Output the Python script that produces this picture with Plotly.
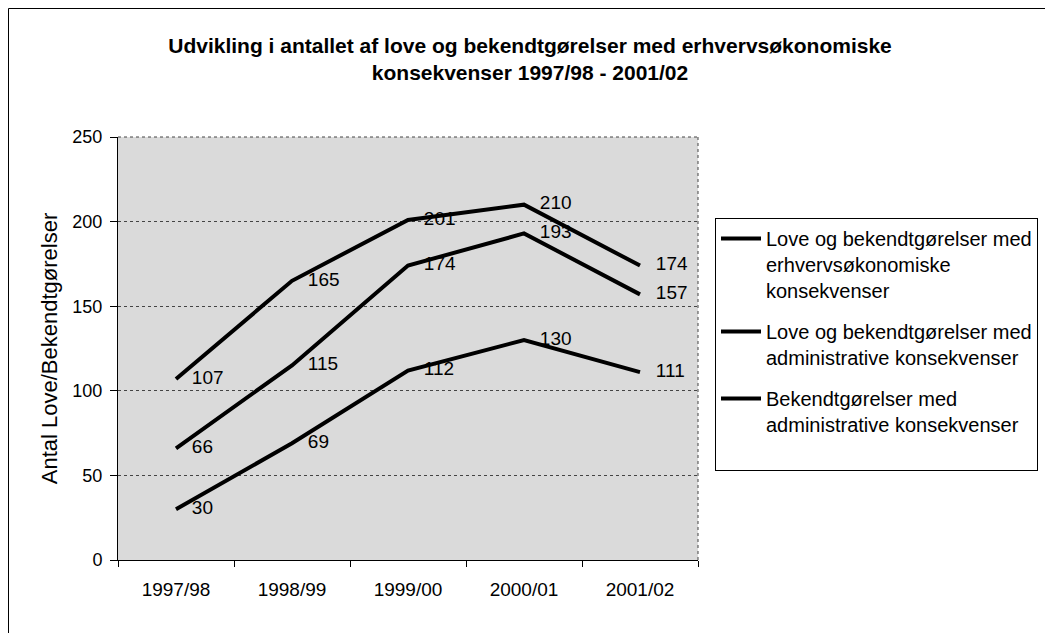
import plotly.graph_objects as go

categories = ["1997/98", "1998/99", "1999/00", "2000/01", "2001/02"]
erhverv = [107, 165, 201, 210, 174]
admin_love = [66, 115, 174, 193, 157]
admin_bek = [30, 69, 112, 130, 111]

names = [
    "Love og bekendtgørelser med<br>erhvervsøkonomiske<br>konsekvenser",
    "Love og bekendtgørelser med<br>administrative konsekvenser",
    "Bekendtgørelser med<br>administrative konsekvenser<br>\u00a0",
]
series = [erhverv, admin_love, admin_bek]

FONT = "Liberation Sans, Arial, sans-serif"
NB = "\u00a0\u00a0\u00a0"

fig = go.Figure()
for i, (nm, vals) in enumerate(zip(names, series)):
    fig.add_trace(go.Scatter(
        x=categories, y=vals, name=nm, mode="lines+text",
        line=dict(color="black", width=4),
        text=[NB + str(v) for v in vals], textposition="middle right",
        textfont=dict(family=FONT, size=19, color="black"),
        legendgroup=str(i), cliponaxis=False,
    ))

# page body has an 8px margin: work in screen coords minus 8
OFF = 8
W, H = 1053 - OFF, 633 - OFF
L, R, T, B = 118 - OFF, 698 - OFF, 137 - OFF, 560 - OFF
pw, ph = R - L, B - T

def px(x):
    return (x - OFF - L) / pw

def py(y):
    return (B - (y - OFF)) / ph

fig.update_layout(
    width=W, height=H,
    margin=dict(l=L, r=W - R, t=T, b=H - B, autoexpand=False),
    paper_bgcolor="white",
    plot_bgcolor="#dadada",
    font=dict(family=FONT, size=18, color="black"),
    title=dict(
        text="<b>Udvikling i antallet af love og bekendtgørelser med erhvervsøkonomiske<br>konsekvenser 1997/98 - 2001/02</b>",
        x=px(530), xanchor="center", xref="paper",
        y=1 - (52.5 - OFF) / H, yanchor="middle",
        font=dict(family=FONT, size=21, color="black"),
    ),
    showlegend=True,
    legend=dict(
        x=px(715), y=py(218), xanchor="left", yanchor="top",
        bgcolor="white", bordercolor="black", borderwidth=1,
        font=dict(family=FONT, size=20, color="black"),
        valign="top", tracegroupgap=12, itemwidth=40,
    ),
    xaxis=dict(
        type="category", range=[-0.5, 4.5],
        showline=True, linecolor="black", linewidth=1,
        ticks="outside", tickson="boundaries", ticklen=6, tickcolor="black",
        showgrid=False, tickfont=dict(family=FONT, size=19),
        ticklabelstandoff=12,
        fixedrange=True,
    ),
    yaxis=dict(
        range=[0, 250], tickvals=[0, 50, 100, 150, 200, 250],
        showline=True, linecolor="black", linewidth=1,
        ticks="outside", ticklen=7, tickcolor="black",
        showgrid=True, gridcolor="#444444", gridwidth=1, griddash="dot",
        zeroline=False,
        tickfont=dict(family=FONT, size=18),
        ticklabelstandoff=4,
        title=dict(text="Antal Love/Bekendtgørelser", font=dict(family=FONT, size=22), standoff=8),
    ),
    shapes=[
        dict(type="line", xref="paper", yref="paper", x0=1, x1=1, y0=0, y1=1,
             line=dict(color="#444444", width=1, dash="dot")),
        dict(type="line", xref="paper", yref="paper", x0=0, x1=1, y0=1, y1=1,
             line=dict(color="#444444", width=1, dash="dot")),
        dict(type="rect", xref="paper", yref="paper",
             x0=(0.5 - L) / pw, x1=(1041 - L) / pw, y0=(B - (H + 10)) / ph, y1=(B - 0.5) / ph,
             line=dict(color="black", width=1), fillcolor="rgba(0,0,0,0)", layer="below"),
    ],
)

fig.write_html("out.html")
